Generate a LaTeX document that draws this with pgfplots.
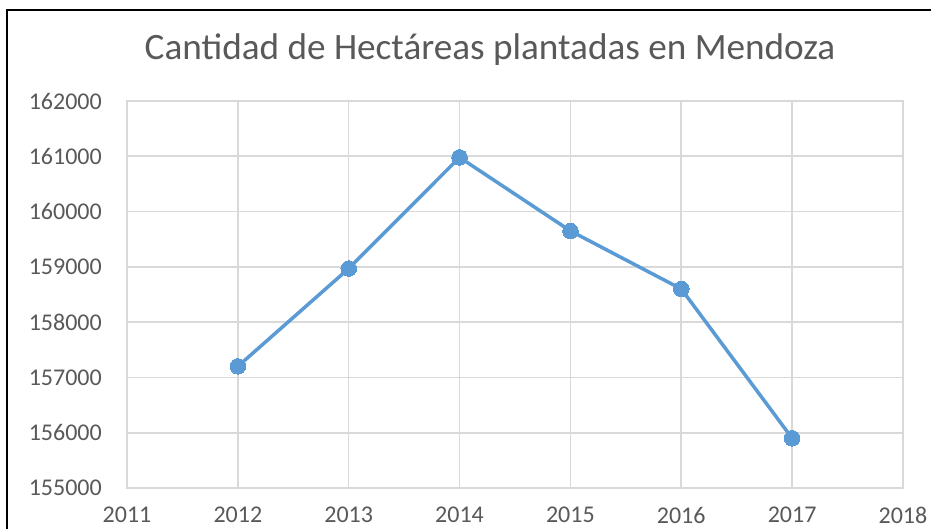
\documentclass[border=0pt]{standalone}
\usepackage{pgfplots}
\pgfplotsset{compat=1.18}
\usepackage{fontspec}
\setmainfont{Carlito}
\definecolor{gridc}{HTML}{D9D9D9}
\definecolor{txt}{HTML}{595959}
\definecolor{ser}{HTML}{5B9BD5}
\begin{document}
\begin{tikzpicture}[x=1pt,y=1pt]
\useasboundingbox (0,0) rectangle (931,528);
\fill[white] (0,0) rectangle (931,528);
\draw[black, line width=2.6pt] (7,-5) -- (7,518) -- (940,518);
\node[anchor=base, text=txt, font=\fontsize{37.2}{37.2}\selectfont] at (490,468) {Cantidad de Hectáreas plantadas en Mendoza};
\begin{axis}[
  at={(127pt,40pt)}, anchor=south west,
  scale only axis, width=776pt, height=387pt,
  xmin=2011, xmax=2018, ymin=155000, ymax=162000,
  xtick={2011,2012,...,2018},
  ytick={155000,156000,...,162000},
  scaled y ticks=false, scaled x ticks=false,
  /pgf/number format/fixed,
  /pgf/number format/precision=0,
  /pgf/number format/1000 sep={},
  /pgf/number format/assume math mode=true,
  grid=major,
  major grid style={draw=gridc, line width=1.6pt},
  axis line style={draw=gridc, line width=1.6pt},
  tick style={draw=none},
  tick label style={font=\fontsize{24}{24}\selectfont, text=txt, inner sep=0pt},
  yticklabel shift=25pt,
  xticklabel shift=19pt,
  clip=false,
]
\addplot[color=ser, line width=3.5pt, mark=*, mark size=7.8pt, mark options={fill=ser, draw=ser, line width=0pt}]
coordinates {
(2012,157200)
(2013,158970)
(2014,160980)
(2015,159650)
(2016,158600)
(2017,155900)
};
\end{axis}
\end{tikzpicture}
\end{document}
